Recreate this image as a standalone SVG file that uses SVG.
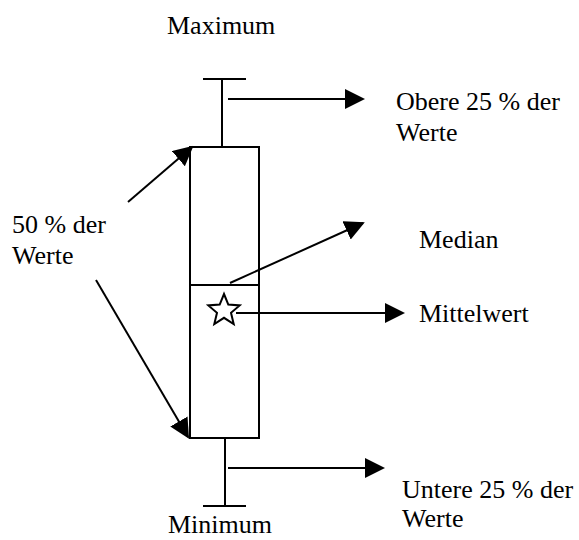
<svg xmlns="http://www.w3.org/2000/svg" width="579" height="540" viewBox="0 0 579 540">
  <style>
    .ln { stroke: #000; stroke-width: 2; fill: none; }
    .arr { stroke: #000; stroke-width: 2; fill: none; marker-end: url(#head); }
    .lbl { font-family: "Liberation Serif", "Times New Roman", serif; font-size: 26px; fill: #000; }
  </style>
  <defs>
    <marker id="head" viewBox="0 0 20 20" refX="18" refY="10" markerWidth="20" markerHeight="20" markerUnits="userSpaceOnUse" orient="auto">
      <path d="M0,0 L20,10 L0,20 z" fill="#000"/>
    </marker>
  </defs>
  <rect width="579" height="540" fill="#fff"/>

  <!-- box plot body -->
  <g id="boxplot">
    <line class="ln" x1="203" y1="79" x2="246" y2="79"/>
    <line class="ln" x1="222" y1="79" x2="222" y2="147"/>
    <rect class="ln" x="190" y="147" width="69" height="291"/>
    <line class="ln" x1="190" y1="285" x2="259" y2="285"/>
    <line class="ln" x1="225" y1="438" x2="225" y2="506"/>
    <line class="ln" x1="203" y1="506" x2="246" y2="506"/>
  </g>

  <!-- mean marker -->
  <g id="mean-star">
    <polygon class="ln" points="224,294 228.3,304.6 239.7,305.4 231,312.8 233.7,324 224,317.8 214.3,324 217,312.8 208.3,305.4 219.7,304.6"/>
  </g>

  <!-- connectors -->
  <g id="connectors">
    <line class="arr" x1="228" y1="99" x2="363" y2="99"/>
    <line class="arr" x1="128" y1="202" x2="192" y2="147"/>
    <line class="arr" x1="96" y1="280" x2="188" y2="437"/>
    <line class="arr" x1="230" y1="283" x2="363" y2="223"/>
    <line class="arr" x1="236" y1="313" x2="403" y2="313"/>
    <line class="arr" x1="228" y1="468" x2="383" y2="468"/>
  </g>

  <g id="label-maximum"><text class="lbl" x="167" y="34">Maximum</text></g>
  <g id="label-upper"><text class="lbl" x="396" y="110">Obere 25 % der</text><text class="lbl" x="396" y="141">Werte</text></g>
  <g id="label-middle"><text class="lbl" x="12" y="233">50 % der</text><text class="lbl" x="12" y="264">Werte</text></g>
  <g id="label-median"><text class="lbl" x="419" y="248">Median</text></g>
  <g id="label-mean"><text class="lbl" x="419" y="322">Mittelwert</text></g>
  <g id="label-lower"><text class="lbl" x="402" y="498">Untere 25 % der</text><text class="lbl" x="402" y="527">Werte</text></g>
  <g id="label-minimum"><text class="lbl" x="168" y="533">Minimum</text></g>
</svg>
